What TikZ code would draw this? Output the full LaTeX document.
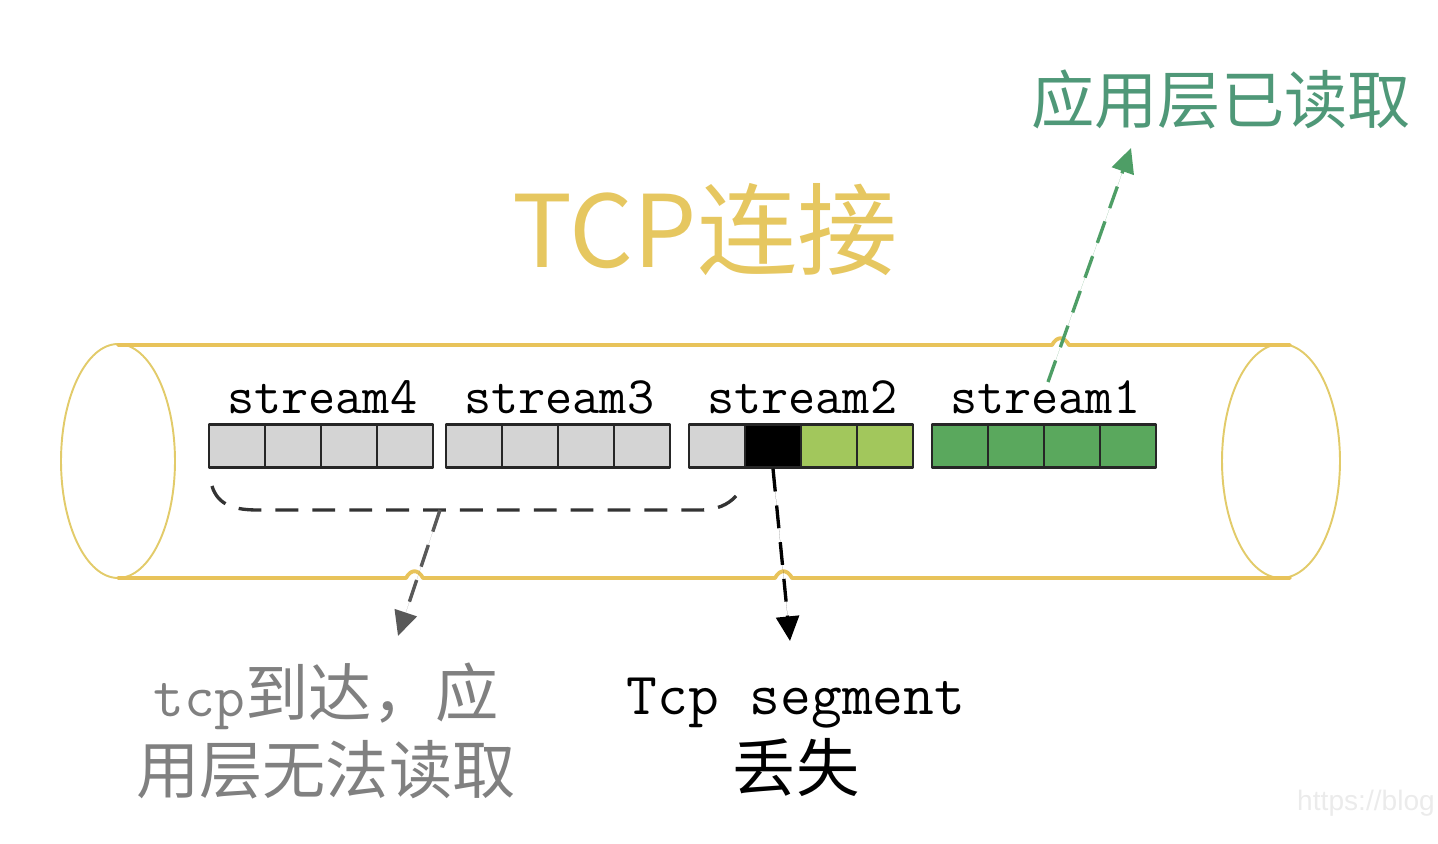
\documentclass[tikz,border=0pt]{standalone}
\usepackage{fontspec}
\newfontfamily\cjk{Noto Sans CJK SC}
\newfontfamily\wmfont{Liberation Sans}
\usetikzlibrary{arrows.meta,calc,positioning}

\definecolor{tubegold}{HTML}{E8C35A}
\definecolor{rimgold}{HTML}{E2CB6A}
\definecolor{titlegold}{HTML}{E6C760}
\definecolor{cellgray}{HTML}{D4D4D4}
\definecolor{lightgrn}{HTML}{A2C75C}
\definecolor{darkgrn}{HTML}{5AA85D}
\definecolor{readgrn}{HTML}{4F9878}
\definecolor{arrgrn}{HTML}{4E9E66}

\begin{document}
\begin{tikzpicture}[
  x=0.02cm, y=-0.02cm,
  line cap=round,
  line join=round,
  cell/.style={
    rectangle,
    draw=black!85,
    line width=1.4pt,
    fill=cellgray,
    minimum width=1.12cm,
    minimum height=0.86cm,
    inner sep=0pt
  },
  slabel/.style={
    font=\ttfamily\fontsize{30}{32}\selectfont,
    inner sep=0pt,
    above=5pt
  },
  tube/.style={draw=tubegold, line width=2.2pt},
  rim/.style={draw=rimgold, line width=1.1pt},
  dline/.style={
    dash pattern=on 13pt off 8pt,
    line width=1.9pt,
    line cap=butt
  },
  darr/.style={
    dline,
    -{Triangle[length=14pt,width=13pt]}
  },
  cnlbl/.style={
    font=\cjk\fontsize{36}{44}\selectfont,
    align=center,
    inner sep=0pt
  }
]
\useasboundingbox (0,0) rectangle (1438,844);

% tube
\draw[rim] (118,461) ellipse [x radius=1.14cm, y radius=2.34cm];
\draw[rim] (1281,461) ellipse [x radius=1.18cm, y radius=2.34cm];
\draw[tube] (118,345) -- (1052,345) .. controls (1057,336) and (1064,336) .. (1069,345) -- (1290,345);
\draw[tube] (118,578) -- (406,578) .. controls (411,569) and (418,569) .. (423,578)
  -- (775,578) .. controls (780,569) and (787,569) .. (792,578) -- (1290,578);

% cells
\foreach \s/\x in {4/209,3/446}
  \foreach \i in {1,...,4}
    \node[cell] (s\s-\i) at ({\x+28+56*(\i-1)},446) {};
\foreach \i/\f in {1/cellgray,2/black,3/lightgrn,4/lightgrn}
  \node[cell,fill=\f] (s2-\i) at ({689+28+56*(\i-1)},446) {};
\foreach \i in {1,...,4}
  \node[cell,fill=darkgrn] (s1-\i) at ({932+28+56*(\i-1)},446) {};

\node[slabel] (l4) at (s4-2.north east) {stream4};
\node[slabel] (l3) at (s3-2.north east) {stream3};
\node[slabel] (l2) at (s2-2.north east) {stream2};
\node[slabel] (l1) at (s1-2.north east) {stream1};

% texts
\node[font=\cjk\fontsize{57}{60}\selectfont, text=titlegold, inner sep=0pt] (tcp) at (705,230) {TCP连接};
\node[cnlbl, text=readgrn] (read) at (1221,100) {应用层已读取};
\node[cnlbl, text=black!50] (wait) at (326,731)
  {{\ttfamily\fontsize{34}{44}\selectfont tcp}到达，应\\用层无法读取};
\node[cnlbl] (lost) at (796,737)
  {{\ttfamily\fontsize{34}{44}\selectfont Tcp segment}\\丢失};
\node[font=\wmfont\fontsize{16}{16}\selectfont, text=black!8, inner sep=0pt] (wm) at (1366,803) {https://blog};

% connectors
\coordinate (bl) at (212,486);
\coordinate (br) at (736,496);
\coordinate (bm) at (440,510);
\coordinate (gtip) at (398,636);
\coordinate (btip) at (790,641);
\coordinate (rstart) at (1048,382);
\coordinate (rtip) at (1131,148);

\draw[dline, draw=black!80]
  (bl) .. controls (218,506) and (236,510) .. (258,510) -- (700,510)
  .. controls (716,510) and (728,505) .. (br);
\draw[darr, draw=black!65, fill=black!50] (bm) -- (gtip);
\draw[darr, draw=black, fill=black] (s2-2.south) -- (btip);
\draw[darr, draw=arrgrn, fill=arrgrn] (rstart) -- (rtip);

\end{tikzpicture}
\end{document}
